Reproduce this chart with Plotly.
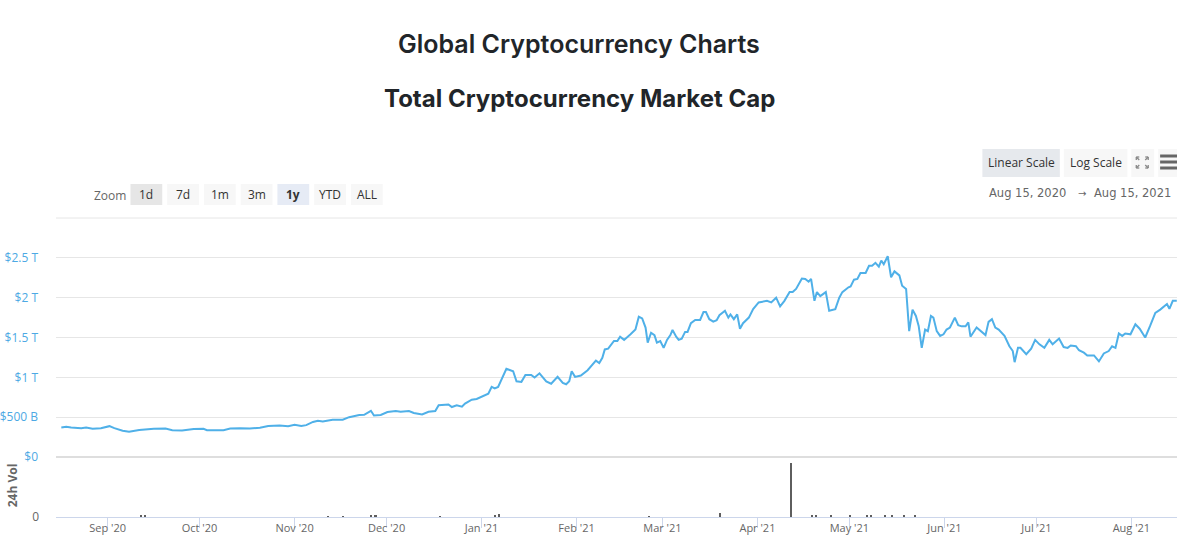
import numpy as np
import pandas as pd
import plotly.graph_objects as go

# ---------------- data ----------------
start_date = "2020-08-15"

# days after start_date, and total market cap in trillions USD
cap_days = [
    1.9, 3.5, 5.1, 8.4, 10.0, 12.1, 14.8, 17.6, 19.2, 21.9, 24.0, 27.3, 32.1, 35.9, 38.1,
    41.3, 45.1, 48.3, 49.4, 54.8, 57.0, 60.2, 63.4, 66.7, 69.4, 73.1, 75.9, 78.0, 80.2,
    81.8, 84.0, 85.6, 87.2, 90.4, 93.7, 95.8, 99.1, 100.7, 102.9, 103.9, 106.1, 108.3,
    111.0, 112.6, 115.3, 116.9, 119.6, 121.7, 123.9, 125.0, 128.2, 129.3, 130.9, 132.6,
    133.6, 135.8, 137.4, 139.0, 141.2, 142.3, 143.3, 144.4, 146.6,
    147.1, 149.3, 150.4, 152.0, 153.3, 155.2, 156.3, 157.9, 160.1, 161.7, 163.8, 165.5,
    166.6, 167.6, 168.4, 169.5, 171.4, 173.6, 176.3, 177.4, 178.4, 179.2, 180.3, 182.2,
    183.3, 184.2, 185.5, 187.6, 189.2, 190.3, 191.4, 192.5, 193.2, 194.3, 195.4, 196.2,
    197.3, 198.4, 199.5, 200.6, 201.3, 202.5, 203.3, 204.3, 205.4, 206.2, 207.3, 208.7,
    210.3, 211.4, 212.2, 213.3, 214.6, 215.7, 216.6, 218.4, 219.5, 220.2, 221.3, 222.4,
    223.3, 224.3, 226.2, 227.6, 229.4,
    232.1, 233.5, 235.1, 236.4, 237.8, 239.5, 240.5, 241.6, 243.5, 244.6, 245.7, 246.5,
    247.6, 248.4, 249.5, 251.3, 252.4, 254.4, 255.7, 256.7, 258.7, 259.4, 260.5, 261.6,
    262.6, 264.3, 265.4, 266.4, 267.5, 268.6, 269.4, 270.2, 271.5, 272.6, 273.7, 275.3,
    276.2, 277.5, 278.5, 279.6, 280.7, 281.6, 282.6, 283.7, 284.6, 285.6, 286.4, 287.5,
    288.6, 289.7, 290.7, 291.8, 293.4, 294.5, 295.6,
    296.9, 297.8, 298.5, 300.5, 302.1, 303.4, 304.4, 305.5, 306.6, 307.7, 309.6, 311.2,
    312.3, 312.9, 314.0, 314.8, 316.7, 318.3, 319.6, 321.0, 322.6, 324.2, 325.3, 327.4,
    328.9, 330.2, 331.2, 332.9, 333.9, 335.5, 336.6, 338.8, 340.4, 342.0, 343.6, 344.7,
    345.8, 346.9, 348.0, 349.0, 350.7, 352.3, 353.7, 355.5, 357.1, 358.8, 360.4, 362.6,
    363.4, 364.5, 365.8,
]
cap_trillions = [
    0.37, 0.38, 0.37, 0.362, 0.37, 0.354, 0.362, 0.387, 0.362, 0.33, 0.316, 0.34, 0.354, 0.357, 0.337,
    0.332, 0.35, 0.354, 0.337, 0.337, 0.357, 0.362, 0.357, 0.366, 0.39, 0.395, 0.387, 0.404, 0.39,
    0.40, 0.44, 0.455, 0.446, 0.467, 0.467, 0.50, 0.527, 0.53, 0.58, 0.52, 0.527, 0.564,
    0.577, 0.568, 0.577, 0.552, 0.534, 0.568, 0.577, 0.65, 0.66, 0.627, 0.648, 0.631,
    0.67, 0.72, 0.728, 0.76, 0.795, 0.88, 0.862, 0.88, 1.064,
    1.107, 1.077, 0.95, 0.943, 1.03, 1.03, 0.997, 1.05, 0.95, 0.92, 1.006, 0.93,
    0.913, 0.95, 1.077, 1.006, 1.023, 1.09, 1.21, 1.18, 1.246, 1.35, 1.36, 1.456,
    1.456, 1.51, 1.47, 1.54, 1.60, 1.76, 1.74, 1.625, 1.435, 1.56, 1.53, 1.435,
    1.456, 1.37, 1.47, 1.53, 1.595, 1.51, 1.47, 1.486, 1.57, 1.57, 1.68, 1.72,
    1.72, 1.82, 1.82, 1.73, 1.70, 1.717, 1.78, 1.835, 1.75, 1.79, 1.73, 1.79,
    1.61, 1.68, 1.75, 1.856, 1.94,
    1.96, 1.94, 2.0, 1.89, 1.96, 2.07, 2.07, 2.11, 2.24, 2.235, 2.20, 2.235,
    1.96, 2.07, 2.02, 2.07, 1.835, 1.856, 2.0, 2.07, 2.13, 2.14, 2.226, 2.235,
    2.31, 2.31, 2.40, 2.40, 2.437, 2.39, 2.466, 2.42, 2.52, 2.256, 2.33, 2.28,
    2.15, 2.11, 1.58, 1.85, 1.77, 1.645, 1.37, 1.60, 1.58, 1.77, 1.75, 1.58,
    1.52, 1.54, 1.60, 1.625, 1.75, 1.654, 1.64,
    1.64, 1.69, 1.51, 1.625, 1.57, 1.53, 1.696, 1.73, 1.625, 1.60, 1.52, 1.39,
    1.33, 1.19, 1.37, 1.37, 1.29, 1.36, 1.47, 1.414, 1.37, 1.47, 1.414, 1.486,
    1.38, 1.37, 1.40, 1.39, 1.34, 1.31, 1.275, 1.275, 1.20, 1.30, 1.33, 1.39,
    1.37, 1.55, 1.52, 1.55, 1.54, 1.667, 1.61, 1.50, 1.645, 1.81, 1.85, 1.92,
    1.86, 1.96, 1.96,
]

# 24h volume (relative units), days after start_date
vol_days = [28.0, 29.3, 88.9, 93.8, 103.0, 104.5, 125.5, 143.4, 144.7, 193.6, 216.9,
            239.9, 247.0, 248.3, 253.0, 259.3, 264.8, 266.1, 270.6, 272.9, 276.8, 280.4]
vol_values = [150, 150, 100, 100, 200, 200, 100, 200, 350, 100, 400,
              5400, 150, 150, 150, 150, 200, 200, 150, 150, 150, 150]

price_tick_vals = [0, 0.5, 1.0, 1.5, 2.0, 2.5, 3.0]
price_tick_text = ["$0", "$500 B", "$1 T", "$1.5 T", "$2 T", "$2.5 T", ""]

month_ticks = ["2020-09-01", "2020-10-01", "2020-11-01", "2020-12-01", "2021-01-01",
               "2021-02-01", "2021-03-01", "2021-04-01", "2021-05-01", "2021-06-01",
               "2021-07-01", "2021-08-01"]
month_labels = ["Sep '20", "Oct '20", "Nov '20", "Dec '20", "Jan '21", "Feb '21",
                "Mar '21", "Apr '21", "May '21", "Jun '21", "Jul '21", "Aug '21"]

zoom_buttons = ["1d", "7d", "1m", "3m", "1y", "YTD", "ALL"]
title_main = "Global Cryptocurrency Charts"
title_sub = "Total Cryptocurrency Market Cap"
range_from = "Aug 15, 2020"
range_to = "Aug 15, 2021"

# ---------------- figure ----------------
W, H = 1177, 541
L, R, T, B = 48, 0, 218, 24
PW, PH = W - L - R, H - T - B


def px(x):
    return (x - L) / PW


def py(y):
    return (T + PH - y) / PH


t0 = pd.Timestamp(start_date)
cap_dates = t0 + pd.to_timedelta(np.array(cap_days), unit="D")
vol_dates = t0 + pd.to_timedelta(np.array(vol_days), unit="D")

LINE = "#4fb0e8"
GRID = "#e6e6e6"
TXT = "#666666"
FONT = "Open Sans"

fig = go.Figure()
fig.add_trace(go.Scatter(
    x=cap_dates, y=cap_trillions, mode="lines",
    line=dict(color=LINE, width=2), yaxis="y", xaxis="x", hoverinfo="skip",
))
fig.add_trace(go.Bar(
    x=vol_dates, y=vol_values, yaxis="y2", xaxis="x",
    marker=dict(color="#5e5e5e", line=dict(width=0)),
    width=0.55 * 86400000, hoverinfo="skip",
))

vol_domain_top = 57 / PH

fig.update_layout(
    width=W, height=H, autosize=False,
    margin=dict(l=L, r=R, t=T, b=B, pad=0),
    paper_bgcolor="white", plot_bgcolor="white",
    showlegend=False, bargap=0,
    font=dict(family=FONT, color=TXT, size=11),
    xaxis=dict(
        type="date", anchor="y2",
        range=["2020-08-15 04:00", "2021-08-15 21:00"],
        tickvals=month_ticks, ticktext=month_labels,
        ticks="outside", ticklen=10, tickcolor="#ccd6eb", tickwidth=1,
        showline=True, linecolor="#ccd6eb", linewidth=1,
        showgrid=False, zeroline=False,
        tickfont=dict(size=11, color=TXT, family=FONT),
        ticklabelstandoff=-9,
    ),
    yaxis=dict(
        domain=[py(457), 1], range=[0, 3.0],
        tickvals=price_tick_vals, ticktext=price_tick_text,
        showgrid=True, gridcolor=GRID, gridwidth=1,
        zeroline=True, zerolinecolor="#dedede", zerolinewidth=2,
        showline=False, ticks="",
        tickfont=dict(size=12, color="#4da9e4", family=FONT),
        ticklabelstandoff=17,
    ),
    yaxis2=dict(
        domain=[0, vol_domain_top], range=[0, 5700],
        tickvals=[0], ticktext=["0"],
        showgrid=False, zeroline=False, showline=False, ticks="",
        tickfont=dict(size=12, color=TXT, family=FONT),
        ticklabelstandoff=16,
    ),
)

shapes = []
annotations = []


def rect(x0, y0, x1, y1, color):
    shapes.append(dict(type="rect", xref="paper", yref="paper",
                       x0=px(x0), x1=px(x1), y0=py(y1), y1=py(y0),
                       fillcolor=color, line=dict(width=0), layer="below"))


def line(x0, y0, x1, y1, color, w):
    shapes.append(dict(type="line", xref="paper", yref="paper",
                       x0=px(x0), x1=px(x1), y0=py(y0), y1=py(y1),
                       line=dict(color=color, width=w)))


def text(x, y, s, size=12, color="#333333", weight=400, family=FONT, xanchor="center", angle=0):
    annotations.append(dict(xref="paper", yref="paper", x=px(x), y=py(y), text=s,
                            showarrow=False, xanchor=xanchor, yanchor="middle",
                            textangle=angle,
                            font=dict(size=size, color=color, family=family, weight=weight)))


# top gridline of the price pane
shapes.append(dict(type="line", xref="paper", yref="paper", x0=0, x1=1, y0=1, y1=1,
                   line=dict(color=GRID, width=1), layer="below"))

# titles
text(575, 44, title_main, size=25, color="#212529", weight=600, family="Inter")
text(575, 98, title_sub, size=24, color="#212529", weight=700, family="Inter")

# zoom buttons
text(102, 195, "Zoom", size=12, color=TXT)
bx = 123
for lab in zoom_buttons:
    if lab == "1d":
        bg = "#e6e6e6"
    elif lab == "1y":
        bg = "#e6ebf5"
    else:
        bg = "#f7f7f7"
    rect(bx, 184, bx + 32, 205, bg)
    text(bx + 16, 194.5, lab, size=12, color="#333333", weight=700 if lab == "1y" else 400)
    bx += 37

# scale buttons
rect(981, 149, 1059, 177, "#e6e9ed")
text(1020, 162.5, "Linear Scale", size=12, color="#333333")
rect(1063, 149, 1127, 177, "#f7f7f7")
text(1095, 162.5, "Log Scale", size=12, color="#333333")
rect(1131, 149, 1154, 177, "#f7f7f7")
ic = "#888888"
for (cx, cy, dx, dy) in [(1136, 157, 1, 1), (1148, 157, -1, 1), (1136, 168, 1, -1), (1148, 168, -1, -1)]:
    line(cx, cy, cx + 3 * dx, cy, ic, 1.3)
    line(cx, cy, cx, cy + 3 * dy, ic, 1.3)
    line(cx, cy, cx + 3 * dx, cy + 3 * dy, ic, 1.3)
rect(1158, 149, 1177, 177, "#f7f7f7")
for yy in (156, 162, 168):
    rect(1160, yy - 1.5, 1177, yy + 1.5, "#666666")

# date range
text(986, 193, range_from, size=11.5, color=TXT, family="DejaVu Sans", xanchor="left")
text(1081, 193, "\u2192", size=10, color=TXT, family="DejaVu Sans")
text(1173, 193, range_to, size=11.5, color=TXT, family="DejaVu Sans", xanchor="right")

# volume axis title
text(4, 485, "24h Vol", size=12, color=TXT, weight=700, angle=-90)

fig.update_layout(shapes=shapes, annotations=annotations)

fig.write_html(
    "out.html",
    config={"displayModeBar": False},
    post_script="document.body.style.margin='0';document.body.style.overflow='hidden';",
)
